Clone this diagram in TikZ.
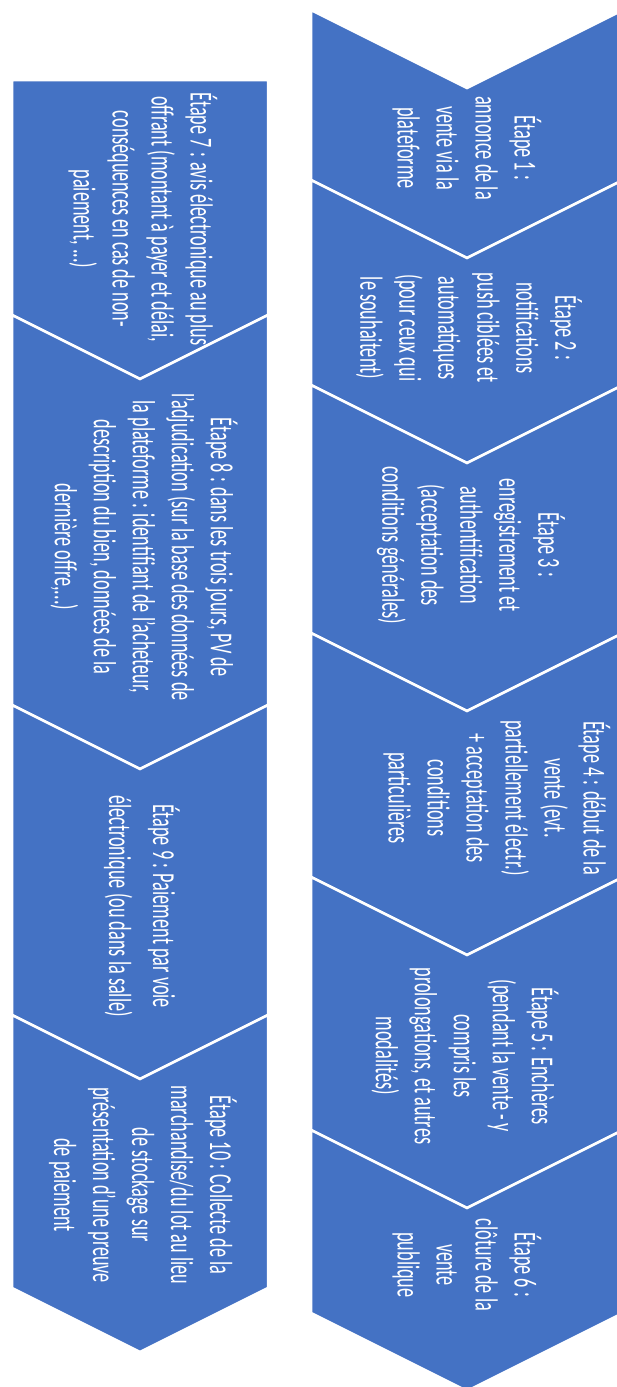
\documentclass[tikz,border=0pt]{standalone}
\usepackage{fontspec}
\setmainfont{Carlito}
\definecolor{chev}{HTML}{4472C4}
\begin{document}
\begin{tikzpicture}[x=1pt,y=-1pt,
  chevshape/.style={fill=chev, draw=white, line width=2.5pt, line join=miter},
  steptext/.style={text=white, align=center, rotate=-90, xscale=0.57,
    font=\fontsize{32}{39}\selectfont, inner sep=0pt}]
\useasboundingbox (0,0) rectangle (617,1387);
% right column
\path[chevshape] (311,10) -- (467,88) -- (623,10) -- (623,180) -- (467,258) -- (311,180) -- cycle;
\path[chevshape] (311,180) -- (467,258) -- (623,180) -- (623,385) -- (467,463) -- (311,385) -- cycle;
\path[chevshape] (311,385) -- (467,463) -- (623,385) -- (623,633) -- (467,711) -- (311,633) -- cycle;
\path[chevshape] (311,633) -- (467,711) -- (623,633) -- (623,877) -- (467,955) -- (311,877) -- cycle;
\path[chevshape] (311,877) -- (467,955) -- (623,877) -- (623,1130) -- (467,1208) -- (311,1130) -- cycle;
\path[chevshape] (311,1130) -- (467,1208) -- (623,1130) -- (623,1313) -- (467,1391) -- (311,1313) -- cycle;
% left column
\path[chevshape] (12,80) -- (268,80) -- (268,315) -- (140,379) -- (12,315) -- cycle;
\path[chevshape] (12,315) -- (140,379) -- (268,315) -- (268,705) -- (140,769) -- (12,705) -- cycle;
\path[chevshape] (12,705) -- (140,769) -- (268,705) -- (268,1015) -- (140,1079) -- (12,1015) -- cycle;
\path[chevshape] (12,1015) -- (140,1079) -- (268,1015) -- (268,1288) -- (140,1352) -- (12,1288) -- cycle;
% texts
\node[steptext] (s1) at (467,148) {Étape 1 :\\annonce de la\\vente via la\\plateforme};
\node[steptext] (s2) at (469,328) {Étape 2 :\\notifications\\push ciblées et\\automatiques\\(pour ceux qui\\le souhaitent)};
\node[steptext] (s3) at (471,545) {Étape 3 :\\enregistrement et\\authentification\\(acceptation des\\conditions générales)};
\node[steptext] (s4) at (497,798) {Étape 4 : début de la\\vente (evt.\\partiellement électr.)\\+ acceptation des\\conditions\\particulières};
\node[steptext] (s5) at (465,1056) {Étape 5 : Enchères\\(pendant la vente - y\\compris les\\prolongations, et autres\\modalités)};
\node[steptext] (s6) at (467,1265) {Étape 6 :\\clôture de la\\vente\\publique};
\node[steptext] (s7) at (143,219) {Étape 7 : avis électronique au plus\\offrant (montant à payer et délai,\\conséquences en cas de non-\\paiement, ...)};
\node[steptext] (s8) at (144,547) {Étape 8 : dans les trois jours, PV de\\l'adjudication (sur la base des données de\\la plateforme : identifiant de l'acheteur,\\description du bien, données de la\\dernière offre,...)};
\node[steptext, font=\fontsize{32}{44}\selectfont] (s9) at (142,906) {Étape 9 : Paiement par voie\\électronique (ou dans la salle)};
\node[steptext] (s10) at (143,1185) {Étape 10 : Collecte de la\\marchandise/du lot au lieu\\de stockage sur\\présentation d'une preuve\\de paiement};
\end{tikzpicture}
\end{document}
